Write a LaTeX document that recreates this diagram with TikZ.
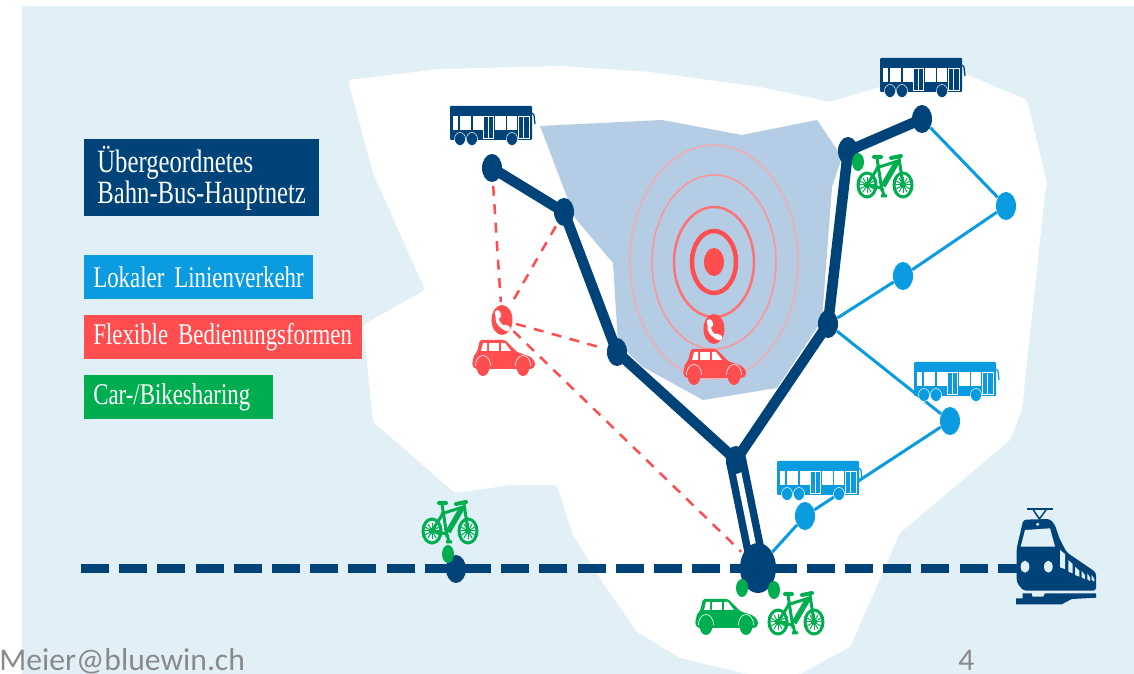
\documentclass[tikz,border=0pt]{standalone}
\usepackage{fontspec}
\usetikzlibrary{shapes.geometric}
\newfontfamily\slabfont{Liberation Serif}[FakeStretch=0.76]
\newfontfamily\footfont{Carlito}
\definecolor{netblue}{HTML}{004379}
\definecolor{localblue}{HTML}{0A9BE0}
\definecolor{flexred}{HTML}{FF4D50}
\definecolor{sharegreen}{HTML}{00AE50}
\definecolor{landbg}{HTML}{E1F0F6}
\definecolor{zoneblue}{HTML}{B4CCE4}
\definecolor{footgray}{HTML}{8A8A8A}
\pgfdeclarelayer{ground}
\pgfdeclarelayer{edges}
\pgfsetlayers{ground,edges,main}
\tikzset{
	pics/busicon/.style={code={
		\fill[#1,rounded corners=0.2mm] (0,0) rectangle (82,34);
		\draw[#1,line width=0.25mm] (82,7) -- (84,9) -- (85,18);
		\foreach \xa/\xb in {3/8,10/21,22.5/33,45/56,57/67}
			\fill[white] (\xa,10) rectangle (\xb,24);
		\foreach \xa/\xb in {33.5/43,68/79} {
			\draw[white,line width=0.08mm] (\xa,10) rectangle (\xb,32);
			\draw[white,line width=0.08mm] (\xa+4.7,10) -- (\xa+4.7,32);
		}
		\foreach \xa in {10,22,62}
			\draw[white,fill=#1,line width=0.1mm] (\xa,33) circle[x radius=5.5,y radius=6.5];
	}},
	pics/caricon/.style={code={
		\fill[#1,rounded corners=0.3mm] (8,0) -- (33,0) -- (45,12) -- (59,17) -- (63,22) -- (63,26) -- (60,29)
			-- (3,29) -- (0,25) -- (2,15) -- (5,12) -- cycle;
		\fill[white] (11,3) -- (15,3) -- (15,11) -- (9,11) -- cycle;
		\fill[white] (17,3) -- (27,3) -- (27,11) -- (17,11) -- cycle;
		\fill[white] (29,3) -- (33,3) -- (39,11) -- (29,11) -- cycle;
		\foreach \xa in {11,51} {
			\draw[white,line width=0.12mm] (\xa-7.6,26) arc[start angle=180,end angle=360,x radius=7.6,y radius=10.5];
			\fill[#1] (\xa,26.5) circle[x radius=6.5,y radius=9.5];
		}
	}},
	pics/bikeicon/.style={code={
		\foreach \xa in {10,46} {
			\draw[#1,line width=0.6mm] (\xa,30) circle[x radius=9,y radius=12];
			\foreach \ang in {0,30,...,150}
				\draw[#1,line width=0.2mm] (\xa,30) -- +(\ang:8) (\xa,30) -- +(\ang+180:8);
			\fill[#1] (\xa,30) circle (3);
		}
		\draw[#1,line width=0.8mm,line cap=round] (17,2) -- (24,2) (34,3) -- (44,1);
		\draw[#1,line width=0.6mm] (20,3) -- (25,36) (19,13) -- (41,6);
		\draw[#1,line width=1.1mm] (40,7) -- (26,31);
		\draw[#1,line width=0.6mm] (42,3) -- (46,30) (10,30) -- (25,33) (10,30) -- (20,14);
		\draw[#1,line width=0.6mm] (24,41) -- (30,41) (25,33) -- (27,41);
	}},
	pics/handset/.style={code={
		\draw[white,line width=0.7mm,line cap=round] (-4,-7) .. controls (-7,2) and (-1,8) .. (6,9);
		\draw[white,line width=1.1mm,line cap=round] (-4.5,-7) -- (-3.5,-4.5) (3,7.5) -- (5.5,8.5);
	}},
	pics/trainicon/.style={code={
		\begin{scope}[x=0.0667mm,y=-0.0667mm]
		\fill[netblue] (80,38) rectangle (158,46);
		\draw[netblue,line width=0.3mm] (100,45) -- (118,72) -- (138,45);
		\fill[netblue,rounded corners=0.6mm] (70,74) -- (150,72) -- (165,90) -- (178,130) -- (200,172)
			-- (288,232) -- (288,287) -- (70,287) -- (50,262) -- (50,160) -- cycle;
		\fill[landbg] (62,155) -- (75,105) -- (150,100) -- (165,155) -- cycle;
		\fill[landbg] (113,88) circle (5);
		\fill[landbg] (75,215) circle[x radius=13,y radius=18];
		\fill[landbg] (145,215) circle[x radius=13,y radius=18];
		\foreach \xa/\ya/\xb/\yb in {180/165/195/222,205/195/218/235,225/215/238/245,245/228/255/252,262/235/270/258,275/240/283/260}
			\fill[landbg] (\xa,\ya) -- (\xb,\ya+12) -- (\xb,\yb) -- (\xa,\yb-5) -- cycle;
		\fill[netblue] (48,310) -- (48,328) -- (185,328) -- (215,312) -- (288,308) -- (288,295) -- (135,295)
			-- (130,305) -- (97,305) -- (95,295) -- (68,295) -- (68,310) -- cycle;
		\end{scope}
	}}
}
\begin{document}
\begin{tikzpicture}[x=0.2mm,y=-0.2mm,
	stop/.style={ellipse,inner sep=0pt,minimum width=4mm,minimum height=5.6mm},
	mainstop/.style={stop,fill=netblue},
	localstop/.style={stop,fill=localblue},
	sharedot/.style={stop,fill=sharegreen,minimum width=2.4mm,minimum height=3.6mm},
	phonestop/.style={stop,fill=flexred,minimum width=4.2mm,minimum height=6mm},
	mainline/.style={netblue,line width=2.1mm},
	localline/.style={localblue,line width=0.6mm},
	flexline/.style={flexred,line width=0.5mm,dash pattern=on 2mm off 1.7mm,shorten <=0.7mm,shorten >=0.5mm},
	legend/.style={anchor=north west,inner ysep=0pt,inner xsep=1.8mm,text=white,align=left,font=\slabfont\fontsize{17.1}{20}\selectfont}]

	\useasboundingbox (0,0) rectangle (1134,674);

	% Flaechen
	\begin{pgfonlayer}{ground}
	\fill[landbg] (22,6) rectangle (1134,674);
	\fill[white,rounded corners=0.6mm] (348,80) -- (440,69) -- (560,66) -- (650,72) -- (760,87) -- (830,102) -- (880,87) -- (963,73)
		-- (1027,100) -- (1047,183) -- (1045,193) -- (1022,410) -- (1010,440) -- (900,533) -- (850,647)
		-- (800,674) -- (747,674) -- (680,658) -- (637,632) -- (603,583) -- (572,533) -- (557,485) -- (512,485)
		-- (455,493) -- (373,422) -- (363,325) -- (425,290) -- (373,173) -- cycle;
	\fill[zoneblue] (540,126) -- (662,120) -- (742,135) -- (817,120) -- (842,157) -- (832,187) -- (822,320)
		-- (777,388) -- (703,400) -- (643,367) -- (618,343) -- (613,263) -- (575,218) -- cycle;
	% Kreise um den Anruf
	\foreach \rx/\ry/\lw/\col in {84/117/0.25mm/flexred!50,62/87/0.3mm/flexred!60,40/55/0.5mm/flexred!80,22/31/0.9mm/flexred}
		\draw[\col,line width=\lw] (714,262) circle[x radius=\rx,y radius=\ry];
	\end{pgfonlayer}

	% Haltestellen
	\node[stop,fill=flexred] (target) at (714,262) {};
	\node[mainstop] (stopA) at (492,168) {};
	\node[mainstop] (stopB) at (564,212) {};
	\node[mainstop] (stopC) at (617,352) {};
	\node[mainstop] (stopD) at (736,460) {};
	\node[mainstop] (stopE) at (828,324) {};
	\node[mainstop] (stopF) at (848,151) {};
	\node[mainstop] (stopG) at (922,119) {};
	\node[mainstop] (stopRail) at (456,569) {};
	\node[mainstop,minimum width=7.2mm,minimum height=10mm] (hub) at (758,568) {};
	\node[localstop] (stopH) at (1006,206) {};
	\node[localstop] (stopI) at (903,276) {};
	\node[localstop] (stopJ) at (950,421) {};
	\node[localstop] (stopK) at (805,516) {};
	\node[phonestop] (phoneL) at (502,320) {};
	\node[phonestop] (phoneM) at (714,329) {};
	\pic at (phoneL) {handset};
	\pic at (phoneM) {handset};
	\coordinate (railW) at (81,569);
	\coordinate (railE) at (1022,569);

	\begin{pgfonlayer}{edges}
	% Bahnlinie
	\draw[netblue,line width=1.8mm,dash pattern=on 5.6mm off 2.04mm] (railW) -- (railE);

	% Lokale Linien
	\draw[localline] (stopG) -- (stopH);
	\draw[localline] (stopH) -- (stopI);
	\draw[localline] (stopI) -- (stopE);
	\draw[localline] (stopE) -- (stopJ);
	\draw[localline] (stopJ) -- (stopK);
	\draw[localline] (stopK) -- (hub);

	% Hauptnetz
	\draw[mainline] (stopA.center) -- (stopB.center);
	\draw[mainline] (stopB.center) -- (stopC.center);
	\draw[mainline] (stopC.center) -- (stopD.center);
	\draw[mainline] (stopD.center) -- (stopE.center);
	\draw[mainline] (stopE.center) -- (stopF.center);
	\draw[mainline] (stopF.center) -- (stopG.center);
	\draw[netblue,line width=1.5mm,double=white,double distance=1.1mm] (stopD.center) -- (hub.center);

	% Flexible Bedienung
	\draw[flexline] (stopA) -- (phoneL);
	\draw[flexline] (stopB) -- (phoneL);
	\draw[flexline] (phoneL) -- (stopC);
	\draw[flexline] (phoneL) -- (hub);
	\end{pgfonlayer}

	% Sharing
	\node[sharedot] (dotRail) at (448,554) {};
	\node[sharedot] (dotF) at (858,162) {};
	\node[sharedot] (dotCar) at (742,588) {};
	\node[sharedot] (dotBike) at (774,590) {};

	% Symbole
	\pic at (450,106) {busicon=netblue};
	\pic at (880,58) {busicon=netblue};
	\pic at (914,362) {busicon=localblue};
	\pic at (777,461) {busicon=localblue};
	\pic at (472,340) {caricon=flexred};
	\pic at (683,349) {caricon=flexred};
	\pic at (695,599) {caricon=sharegreen};
	\pic at (857,155) {bikeicon=sharegreen};
	\pic at (422,501) {bikeicon=sharegreen};
	\pic at (768,592) {bikeicon=sharegreen};
	\pic at (1000,495) {trainicon};

	% Legende
	\node[legend,fill=netblue,minimum height=15.4mm,inner xsep=2.6mm,text width=41.8mm,font=\slabfont\fontsize{18.5}{17.6}\selectfont] (boxMain) at (84,139) {Übergeordnetes\\\mbox{Bahn-Bus-Hauptnetz}};
	\node[legend,fill=localblue,minimum height=8.8mm,text width=42.2mm] (boxLocal) at (84,255) {\mbox{Lokaler Linienverkehr}};
	\node[legend,fill=flexred,minimum height=8.8mm,text width=52mm] (boxFlex) at (84,315) {\mbox{Flexible Bedienungsformen}};
	\node[legend,fill=sharegreen,minimum height=8.8mm,text width=34.2mm] (boxShare) at (84,375) {\mbox{Car-/Bikesharing}};

	% Fusszeile
	\node[anchor=base west,inner sep=0pt,text=footgray,font=\footfont\fontsize{18}{20}\selectfont] (footMail) at (-1,670.5) {Meier@bluewin.ch};
	\node[anchor=base west,inner sep=0pt,text=footgray,font=\footfont\fontsize{18}{20}\selectfont] (footPage) at (958,670.5) {4};

\end{tikzpicture}
\end{document}
